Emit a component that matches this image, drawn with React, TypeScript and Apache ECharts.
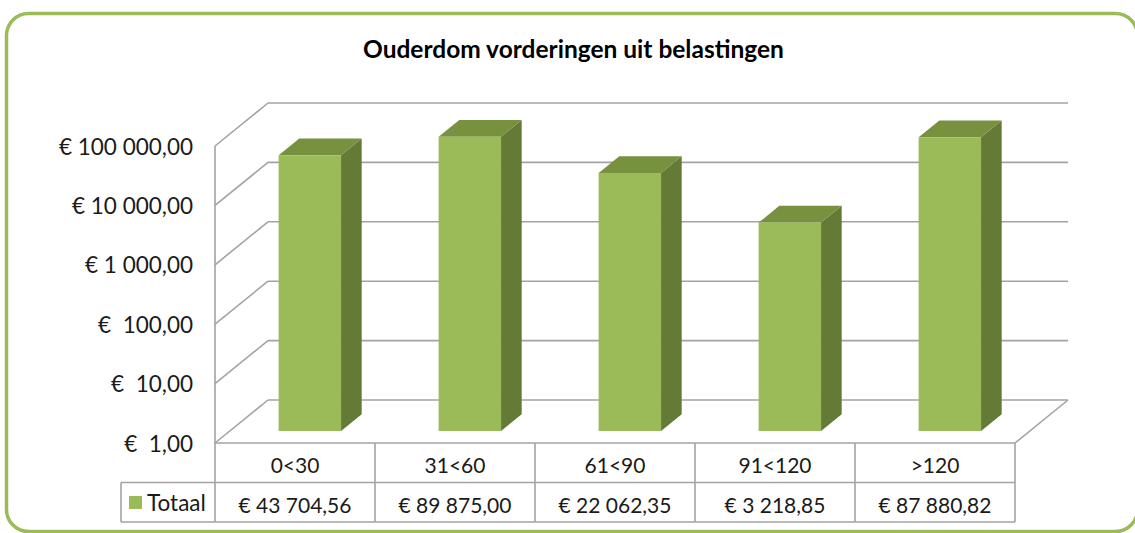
import { useEffect, useRef } from "react";
import * as echarts from "echarts";

const chartTitle = "Ouderdom vorderingen uit belastingen";
const seriesName = "Totaal";
const categories = ["0<30", "31<60", "61<90", "91<120", ">120"];
const totals = [43704.56, 89875.0, 22062.35, 3218.85, 87880.82];
const yTickValues = [1, 10, 100, 1000, 10000, 100000];
const yTickLabels = [
  "€\u00a0\u00a01,00",
  "€\u00a0\u00a010,00",
  "€\u00a0\u00a0100,00",
  "€ 1 000,00",
  "€ 10 000,00",
  "€ 100 000,00",
];

const FONT = "Lato, 'Open Sans', sans-serif";
const GRID_COLOR = "#a3a3a3";
const DEPTH_X = 53;
const DEPTH_Y = -43;
const BAR_F0 = 0.28;
const BAR_F1 = 0.67;
const BAR_W = 0.39;
const ROW_H = 39.5;
const LEGEND_COL_W = 94;

function formatEuro(v: number): string {
  const [intPart, dec] = v.toFixed(2).split(".");
  const grouped = intPart.replace(/\B(?=(\d{3})+(?!\d))/g, " ");
  return "€ " + grouped + "," + dec;
}

function line(x1: number, y1: number, x2: number, y2: number, w = 1.6) {
  return {
    type: "line",
    shape: { x1, y1, x2, y2 },
    style: { stroke: GRID_COLOR, lineWidth: w, fill: null },
  };
}

export default function App() {
  const ref = useRef<HTMLDivElement>(null);
  useEffect(() => {
    if (!ref.current) return;
    const chart = echarts.init(ref.current, null, { renderer: "svg" });

    const frameItem = (params: any, api: any) => {
      const cs = params.coordSys;
      const v = api.value(0);
      const p = api.coord([0, v]);
      const y = p[1];
      const x0 = cs.x;
      const x1 = cs.x + cs.width;
      const children: any[] = [
        line(x0 + DEPTH_X, y + DEPTH_Y, x1 + DEPTH_X, y + DEPTH_Y),
        line(x0, y, x0 + DEPTH_X, y + DEPTH_Y),
      ];
      if (params.dataIndex === 0) {
        const yTop = cs.y;
        const yB = cs.y + cs.height;
        children.push(line(x0, yTop, x0, yB));
        children.push(line(x0, yB, x1, yB));
        children.push(line(x1, yB, x1 + DEPTH_X, yB + DEPTH_Y));
        // data table
        const r1 = yB + ROW_H;
        const r2 = yB + 2 * ROW_H;
        const lx = x0 - LEGEND_COL_W;
        children.push(line(lx, r1, x1, r1));
        children.push(line(lx, r2, x1, r2));
        children.push(line(lx, r1, lx, r2));
        const band = cs.width / categories.length;
        for (let i = 0; i <= categories.length; i++) {
          const cx = x0 + band * i;
          children.push(line(cx, yB, cx, r2));
        }
      }
      return { type: "group", children };
    };

    const barItem = (params: any, api: any) => {
      const idx = api.value(0);
      const top = api.coord([idx, api.value(1)]);
      const bottom = api.coord([idx, 1]);
      const band = api.size([1, 0])[0];
      const w = band * BAR_W;
      const xl0 = top[0] - w / 2 + BAR_F0 * DEPTH_X;
      const xr0 = xl0 + w;
      const yt0 = top[1] + BAR_F0 * DEPTH_Y;
      const yb0 = bottom[1] + BAR_F0 * DEPTH_Y;
      const dx = (BAR_F1 - BAR_F0) * DEPTH_X;
      const dy = (BAR_F1 - BAR_F0) * DEPTH_Y;
      return {
        type: "group",
        children: [
          {
            type: "polygon",
            shape: { points: [[xr0, yt0], [xr0 + dx, yt0 + dy], [xr0 + dx, yb0 + dy], [xr0, yb0]] },
            style: { fill: "#647a36" },
          },
          {
            type: "polygon",
            shape: { points: [[xl0, yt0], [xr0, yt0], [xr0 + dx, yt0 + dy], [xl0 + dx, yt0 + dy]] },
            style: { fill: "#77913f" },
          },
          {
            type: "rect",
            shape: { x: xl0, y: yt0, width: w, height: yb0 - yt0 },
            style: { fill: "#9bbb59" },
          },
        ],
      };
    };

    chart.setOption({
      animation: false,
      backgroundColor: "#ffffff",
      title: {
        text: chartTitle,
        left: 363,
        top: 36,
        padding: 0,
        textStyle: { fontFamily: FONT, fontWeight: "bold", fontSize: 24.5, color: "#000" },
      },
      legend: {
        data: [seriesName],
        left: 129,
        top: 491,
        padding: 0,
        icon: "rect",
        itemWidth: 13,
        itemHeight: 13,
        textStyle: { fontFamily: FONT, fontSize: 22.5, color: "#1a1a1a" },
        selectedMode: false,
      },
      grid: { left: 215, top: 146, width: 800, height: 297 },
      xAxis: [
        {
          type: "category",
          data: categories,
          axisLine: { show: false },
          axisTick: { show: false },
          axisLabel: { margin: 11, fontFamily: FONT, fontSize: 21, color: "#1a1a1a" },
        },
        {
          type: "category",
          data: categories,
          position: "bottom",
          offset: ROW_H,
          axisLine: { show: false },
          axisTick: { show: false },
          axisLabel: {
            margin: 11,
            fontFamily: FONT,
            fontSize: 21,
            color: "#1a1a1a",
            formatter: (_v: string, i: number) => formatEuro(totals[i]),
          },
        },
      ],
      yAxis: {
        type: "log",
        logBase: 10,
        min: 1,
        max: 100000,
        axisLine: { show: false },
        axisTick: { show: false },
        splitLine: { show: false },
        axisLabel: {
          margin: 22,
          fontFamily: FONT,
          fontSize: 22.5,
          color: "#1a1a1a",
          formatter: (v: number) => yTickLabels[Math.round(Math.log10(v))],
        },
      },
      graphic: [
        {
          type: "rect",
          shape: { x: 6.5, y: 13.5, width: 1131, height: 518, r: 22 },
          style: { fill: null, stroke: "#9bbb59", lineWidth: 3.5 },
          silent: true,
          z: 0,
        },
      ],
      series: [
        {
          type: "custom",
          name: "frame",
          renderItem: frameItem,
          data: yTickValues.map((v) => [v]),
          encode: { y: 0 },
          z: 1,
          silent: true,
        },
        {
          type: "custom",
          name: seriesName,
          renderItem: barItem,
          itemStyle: { color: "#9bbb59" },
          data: totals.map((v, i) => [i, v]),
          encode: { x: 0, y: 1 },
          z: 2,
        },
      ],
    });
    return () => chart.dispose();
  }, []);
  return (
    <div
      ref={ref}
      style={{ position: "absolute", left: 0, top: 0, width: 1135, height: 533 }}
    />
  );
}
